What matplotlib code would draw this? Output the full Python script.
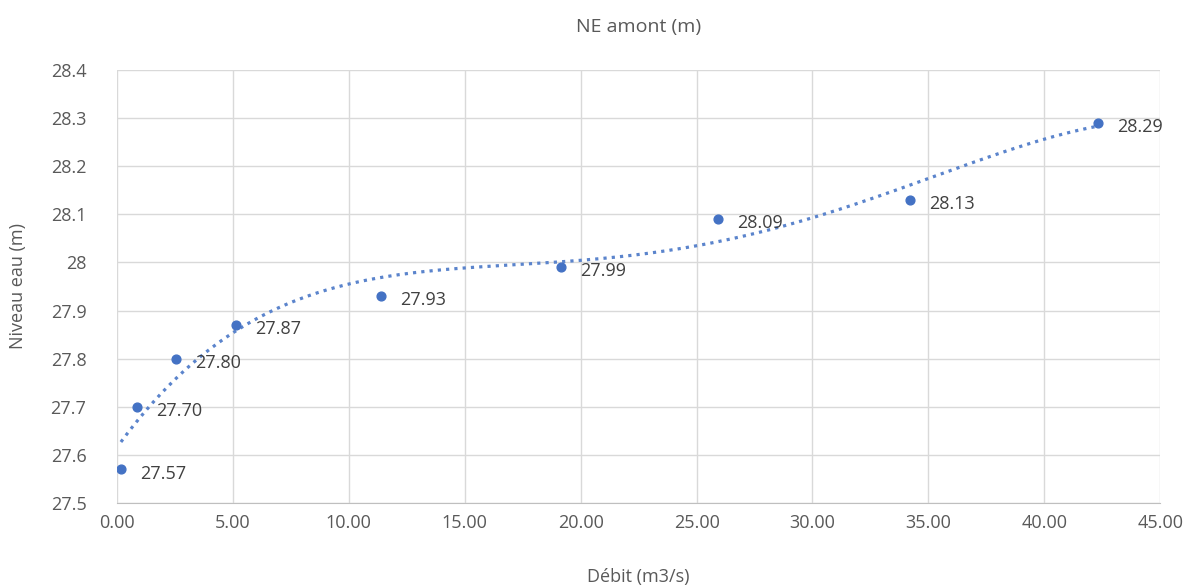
import numpy as np
import matplotlib
matplotlib.use("Agg")
import matplotlib.pyplot as plt

plt.rcParams['font.family'] = ['Open Sans', 'DejaVu Sans']

debit = [0.17, 0.86, 2.55, 5.13, 11.39, 19.15, 25.93, 34.2, 42.3]
niveau = [27.57, 27.70, 27.80, 27.87, 27.93, 27.99, 28.09, 28.13, 28.29]
labels = ["27.57", "27.70", "27.80", "27.87", "27.93", "27.99", "28.09", "28.13", "28.29"]
xticks = [0, 5, 10, 15, 20, 25, 30, 35, 40, 45]
yticks = [27.5, 27.6, 27.7, 27.8, 27.9, 28.0, 28.1, 28.2, 28.3, 28.4]
ytick_labels = ["27.5", "27.6", "27.7", "27.8", "27.9", "28", "28.1", "28.2", "28.3", "28.4"]
trend_degree = 4

blue = '#4472C4'
gray = '#595959'

fig = plt.figure(figsize=(11.9, 5.87), dpi=100)
ax = fig.add_axes([0.0983, 0.143, 0.8767, 0.738])

# polynomial trendline fitted to the data (as in the spreadsheet chart)
coef = np.polyfit(debit, niveau, trend_degree)
xs = np.linspace(min(debit), max(debit), 300)
ax.plot(xs, np.polyval(coef, xs), linestyle=(0, (1, 1.6)), color='#5B84CC',
        lw=2.3, zorder=2)

ax.scatter(debit, niveau, s=40, color=blue, zorder=3)
for x, y, t in zip(debit, niveau, labels):
    ax.annotate(t, (x, y), xytext=(14, -3), textcoords='offset points',
                ha='left', va='center', fontsize=13, color='#404040')

ax.set_xlim(0, 45)
ax.set_ylim(27.5, 28.4)
ax.set_xticks(xticks)
ax.set_xticklabels([f"{v:.2f}" for v in xticks])
ax.set_yticks(yticks)
ax.set_yticklabels(ytick_labels)
ax.grid(True, color='#D9D9D9', lw=1)
ax.set_axisbelow(True)
for s in ['top', 'right', 'left']:
    ax.spines[s].set_visible(False)
ax.spines['bottom'].set_color('#BFBFBF')
ax.tick_params(length=0, labelsize=13, colors=gray, pad=8)
ax.tick_params(axis='y', pad=22)

ax.set_title("NE amont (m)", fontsize=14, color=gray, pad=27)
ax.set_xlabel("Débit (m3/s)", fontsize=13, color=gray, labelpad=26)
ax.set_ylabel("Niveau eau (m)", fontsize=13, color=gray, labelpad=17)

fig.savefig("out.png", dpi=100)
